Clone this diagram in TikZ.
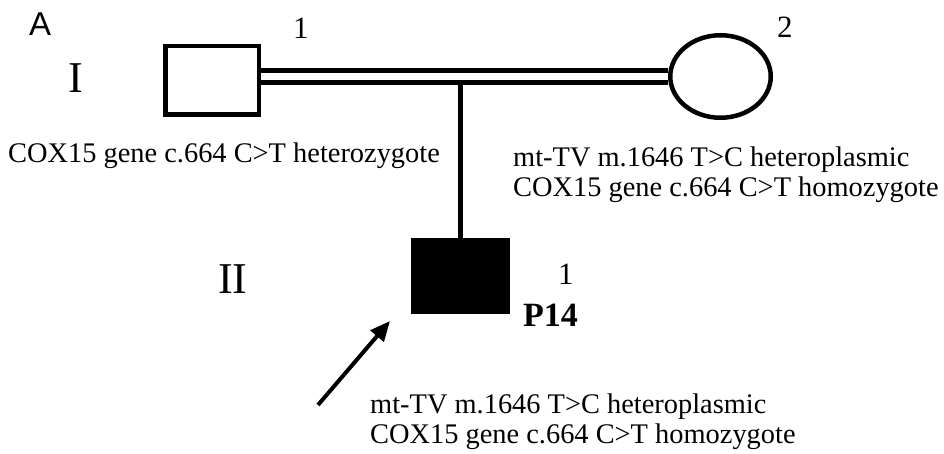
\documentclass[tikz,border=0pt]{standalone}
\usepackage{fontspec}
\setmainfont{Liberation Serif}
\newfontfamily\arialfont{Liberation Sans}
\usetikzlibrary{shapes.geometric,arrows.meta}
\begin{document}
\begin{tikzpicture}[x=1pt,y=-1pt,
  person/.style={draw=black,line width=4.5pt,inner sep=0pt},
  marriage/.style={draw=black,double=white,double distance=7.5pt,line width=4.5pt},
  link/.style={draw=black,line width=4.5pt},
  pointer/.style={draw=black,line width=4pt,-{Triangle[length=20pt,width=17pt]}},
  info/.style={anchor=base west,inner sep=0pt,font=\fontsize{28.4}{30}\selectfont},
  gen/.style={anchor=base west,inner sep=0pt,font=\fontsize{44}{44}\selectfont},
  num/.style={anchor=base west,inner sep=0pt,font=\fontsize{31}{31}\selectfont}]
\useasboundingbox[fill=white] (0,0) rectangle (944,454);
% individuals
\node[person,rectangle,minimum width=93.5pt,minimum height=68.5pt] (f1) at (212,80.5) {};
\node[person,ellipse,minimum width=100.5pt,minimum height=82.5pt] (m2) at (720.5,76.5) {};
\node[person,rectangle,fill=black,minimum width=94.5pt,minimum height=71.5pt] (c1) at (460.5,276) {};
% connectors
\coordinate (mL) at (f1.east |- m2.west);
\draw[marriage] (mL) -- (m2.west);
\coordinate (dsc) at (c1.north |- 0,82);
\draw[link] (dsc) -- (c1.north);
\coordinate (arrS) at (318,405);
\coordinate (arrT) at (390,321);
\draw[pointer] (arrS) -- (arrT);
% labels
\node[anchor=base west,inner sep=0pt,font=\arialfont\fontsize{33}{33}\selectfont] (lblA) at (29,36) {A};
\node[gen] (g1) at (68,93) {I};
\node[gen] (g2) at (218,293) {II};
\node[num] (n1) at (293,39) {1};
\node[num] (n2) at (777,38) {2};
\node[num] (n3) at (558,284) {1};
\node[anchor=base west,inner sep=0pt,font=\bfseries\fontsize{34}{34}\selectfont] (p14) at (523,326) {P14};
\node[info] (t1) at (8,163) {COX15 gene c.664 C>T heterozygote};
\node[info] (t2a) at (513,167) {mt-TV m.1646 T>C heteroplasmic};
\node[info] (t2b) at (513,197) {COX15 gene c.664 C>T homozygote};
\node[info] (t3a) at (370,413) {mt-TV m.1646 T>C heteroplasmic};
\node[info] (t3b) at (370,443) {COX15 gene c.664 C>T homozygote};
\end{tikzpicture}
\end{document}
